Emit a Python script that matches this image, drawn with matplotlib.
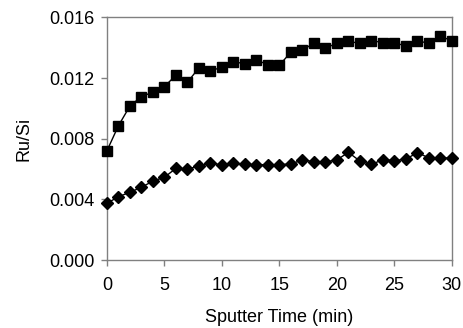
import matplotlib
matplotlib.use("Agg")
import matplotlib.pyplot as plt
import numpy as np

time_min = list(range(0, 31))
ru_si_squares = [0.00721, 0.00886, 0.01016, 0.01078, 0.01107, 0.01144, 0.01219, 0.01173,
                 0.01267, 0.01247, 0.01272, 0.01308, 0.01294, 0.01318, 0.01289, 0.01285,
                 0.01371, 0.01384, 0.01430, 0.01399, 0.01428, 0.01443, 0.01428, 0.01447,
                 0.01434, 0.01432, 0.01412, 0.01447, 0.01428, 0.01474, 0.01447]
ru_si_diamonds = [0.00374, 0.00418, 0.00447, 0.00480, 0.00521, 0.00546, 0.00605, 0.00600,
                  0.00620, 0.00638, 0.00629, 0.00638, 0.00631, 0.00629, 0.00629, 0.00629,
                  0.00634, 0.00660, 0.00649, 0.00647, 0.00661, 0.00710, 0.00653, 0.00631,
                  0.00662, 0.00655, 0.00666, 0.00708, 0.00674, 0.00672, 0.00674]
x_ticks = [0, 5, 10, 15, 20, 25, 30]
y_ticks = [0.000, 0.004, 0.008, 0.012, 0.016]
y_tick_labels = ["0.000", "0.004", "0.008", "0.012", "0.016"]

plt.rcParams['font.family'] = ['Liberation Sans', 'DejaVu Sans']

fig = plt.figure(figsize=(4.63, 3.28), dpi=100)
ax = fig.add_axes([0.231, 0.207, 0.745, 0.740])

ax.plot(time_min, ru_si_squares, color='black', lw=1, marker='s', ms=6.5, clip_on=False, zorder=3)
ax.plot(time_min, ru_si_diamonds, color='black', lw=1, marker='D', ms=5.8, clip_on=False, zorder=3)

ax.set_xlim(0, 30)
ax.set_ylim(0, 0.016)
ax.set_xticks(x_ticks)
ax.set_yticks(y_ticks)
ax.set_yticklabels(y_tick_labels)

for s in ax.spines.values():
    s.set_color('#808080')
    s.set_linewidth(1)
ax.tick_params(axis='both', colors='#808080', labelcolor='black', labelsize=13,
               direction='out', length=4, width=1)
ax.tick_params(axis='x', pad=8)
ax.tick_params(axis='y', pad=5)

ax.set_xlabel("Sputter Time (min)", fontsize=13, labelpad=11)
ax.set_ylabel("Ru/Si", fontsize=13, labelpad=12)

fig.savefig("out.png", dpi=100)
